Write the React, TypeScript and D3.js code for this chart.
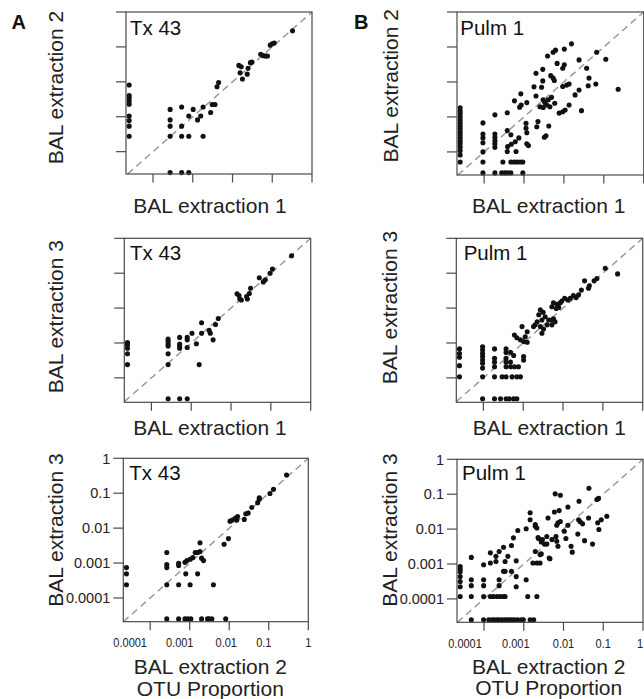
import React from 'react';
import * as d3 from 'd3';

// Values are log10(OTU proportion); null = OTU not detected in that extraction
type Pt = [number | null, number | null];

const tx43Ext1VsExt2: Pt[] = [
  [null, -2.09], [null, -2.39], [null, -2.46], [null, -2.55], [null, -2.64], [null, -2.98], [null, -3.11], [null, -3.27], [null, -3.56],
  [-3.57, null], [-3.28, null], [-3.10, null],
  [-3.57, -2.79], [-3.57, -3.09], [-3.57, -3.27], [-3.57, -3.56],
  [-3.28, -2.72], [-3.28, -3.27], [-3.28, -3.56],
  [-3.10, -2.98], [-3.10, -3.56],
  [-2.99, -2.79], [-2.88, -3.09], [-2.80, -2.98], [-2.74, -2.72], [-2.74, -3.56],
  [-2.55, -2.88], [-2.51, -2.65], [-2.44, -2.65], [-2.39, -2.14], [-2.35, -2.02],
  [-1.84, -1.53], [-1.78, -1.57], [-1.81, -1.74], [-1.75, -1.92], [-1.63, -1.78], [-1.61, -1.61], [-1.55, -1.45], [-1.51, -1.43],
  [-1.29, -1.21], [-1.23, -1.25], [-1.17, -1.26], [-1.12, -1.26],
  [-1.05, -0.95], [-1.0, -0.91], [-0.95, -0.89],
  [-0.49, -0.54],
];

const tx43Ext1VsExt3: Pt[] = [
  [null, -2.99], [null, -3.06], [null, -3.15], [null, -3.31], [null, -3.62],
  [-3.58, null], [-3.29, null], [-3.10, null],
  [-3.58, -2.89], [-3.58, -2.96], [-3.58, -3.03], [-3.58, -3.09], [-3.58, -3.31], [-3.58, -3.62],
  [-3.29, -2.84], [-3.29, -3.03], [-3.29, -3.09], [-3.29, -3.15],
  [-3.10, -2.84], [-3.10, -2.91], [-3.10, -3.13],
  [-2.98, -2.72], [-2.87, -3.02], [-2.80, -3.62], [-2.74, -2.42], [-2.74, -2.72],
  [-2.55, -2.64], [-2.52, -2.72], [-2.45, -2.91], [-2.39, -2.47], [-2.32, -2.30],
  [-1.85, -1.59], [-1.80, -1.64], [-1.78, -1.74], [-1.74, -1.77], [-1.61, -1.67], [-1.59, -1.74], [-1.54, -1.58], [-1.51, -1.43],
  [-1.29, -1.13], [-1.19, -1.25], [-1.14, -1.19], [-1.02, -1.0], [-0.96, -0.88],
  [-0.48, -0.5],
];

const tx43Ext2VsExt3: Pt[] = [
  [null, -3.13], [null, -3.31], [null, -3.62],
  [-3.58, null], [-3.28, null], [-3.12, null], [-3.05, null], [-2.97, null], [-2.70, null], [-2.55, null], [-2.51, null], [-2.44, null], [-2.09, null],
  [-3.58, -2.70], [-3.58, -3.04], [-3.58, -3.13], [-3.58, -3.62],
  [-3.28, -3.01], [-3.28, -3.07], [-3.28, -3.62],
  [-3.12, -2.98], [-3.10, -3.31], [-3.07, -2.93],
  [-2.99, -3.62], [-2.99, -2.89], [-2.92, -2.84], [-2.86, -2.70], [-2.80, -3.31], [-2.80, -2.70],
  [-2.74, -2.42], [-2.74, -2.67], [-2.70, -2.86], [-2.65, -2.93], [-2.40, -3.62],
  [-2.13, -2.46], [-2.02, -2.30],
  [-1.98, -1.80], [-1.92, -1.77], [-1.85, -1.72], [-1.79, -1.67], [-1.81, -1.77],
  [-1.62, -1.75], [-1.58, -1.59], [-1.52, -1.57], [-1.43, -1.41],
  [-1.28, -1.27], [-1.24, -1.17], [-1.24, -1.13],
  [-0.97, -1.01], [-0.88, -0.89],
  [-0.55, -0.48],
];

const pulm1Ext1VsExt2: Pt[] = [
  // upper cluster
  [-3.24, -2.54], [-3.08, -2.34], [-3.11, -2.72], [-3.07, -2.66], [-2.93, -2.59], [-2.75, -2.14], [-2.70, -1.75],
  [-2.53, -1.64], [-2.53, -1.97], [-2.56, -2.15], [-2.70, -2.40], [-2.60, -2.71], [-2.52, -2.51], [-2.48, -2.59],
  [-2.43, -2.66], [-2.52, -2.73], [-2.39, -2.51], [-2.35, -2.71], [-2.31, -2.44], [-2.23, -2.61], [-2.68, -3.28],
  [-2.65, -3.13], [-2.45, -3.54], [-2.49, -3.58], [-2.38, -3.26], [-2.41, -1.26], [-2.27, -1.15], [-2.21, -1.09],
  [-2.33, -1.82], [-2.27, -1.89], [-2.24, -1.96], [-2.17, -1.47], [-2.12, -2.89], [-2.03, -2.13], [-1.93, -2.09],
  [-2.03, -2.85], [-1.97, -2.80], [-1.99, -1.51], [-2.03, -1.61], [-1.99, -1.06], [-1.87, -2.06], [-1.87, -2.66],
  [-1.81, -0.91], [-1.72, -2.37], [-1.62, -2.23], [-1.62, -1.37], [-1.56, -2.82], [-1.43, -1.61], [-1.39, -2.11],
  [-1.37, -1.89], [-1.20, -2.06], [-1.18, -1.15], [-0.95, -1.35], [-0.64, -2.21],
  [-2.95, -3.18], [-2.95, -3.32], [-2.93, -3.45], [-2.93, -3.77], [-2.89, -3.82],
  // lower left
  [null, -2.74], [null, -2.83], [null, -2.91], [null, -3.0], [null, -3.09], [null, -3.17], [null, -3.26], [null, -3.34],
  [null, -3.43], [null, -3.51], [null, -3.60], [null, -3.69], [null, -3.77], [null, -3.86], [null, -3.97], [null, -4.09], [null, -4.29],
  [-4.03, -3.17], [-4.03, -3.49], [-4.03, -3.60], [-4.03, -3.74], [-4.03, -4.0], [-4.03, -4.29], [-4.03, null],
  [-3.73, -2.94], [-3.73, -3.49], [-3.73, -3.59], [-3.73, -3.69], [-3.73, -3.77], [-3.73, -3.87], [-3.73, null],
  [-3.56, null], [-3.48, null], [-3.41, null], [-3.33, null], [-3.03, null],
  [-3.53, -4.29], [-3.33, -4.29], [-3.25, -4.29], [-3.18, -4.29], [-3.10, -4.29], [-3.03, -4.29],
  [-3.42, -2.88], [-3.42, -3.39], [-3.33, -3.51], [-3.32, -3.78], [-3.41, -3.85], [-3.42, -3.99], [-3.22, -3.71],
  [-3.20, -3.99], [-3.13, -3.60],
];

const pulm1Ext1VsExt3: Pt[] = [
  // diagonal band
  [-0.94, -0.86], [-0.63, -1.02], [-1.15, -1.15], [-1.22, -1.22], [-1.34, -1.36], [-1.36, -1.43], [-1.46, -1.22],
  [-1.54, -1.48], [-1.61, -1.62], [-1.67, -1.70], [-1.74, -1.64], [-1.82, -1.72], [-1.88, -1.77], [-1.96, -1.72],
  [-2.03, -1.80], [-2.07, -1.85], [-2.15, -1.89], [-2.24, -1.85], [-2.28, -1.96], [-2.17, -2.01], [-2.11, -1.98],
  [-2.57, -2.05], [-2.50, -2.12], [-2.61, -2.19], [-2.45, -2.25], [-2.53, -2.34], [-2.36, -2.34], [-2.28, -2.34],
  [-2.24, -2.31], [-2.20, -2.39], [-2.65, -2.39], [-2.70, -2.48], [-2.74, -2.53], [-2.57, -2.53], [-2.49, -2.60],
  [-2.40, -2.48], [-2.28, -2.48], [-2.53, -2.72], [-2.90, -2.68], [-2.95, -2.82], [-2.90, -2.98], [-3.03, -2.53],
  [-3.22, -2.77], [-3.16, -2.85], [-3.07, -2.91], [-2.99, -2.96],
  // lower left
  [null, -3.17], [null, -3.30], [null, -3.41], [null, -3.65], [null, -3.97],
  [-4.02, -3.11], [-4.02, -3.20], [-4.02, -3.30], [-4.02, -3.39], [-4.02, -3.49], [-4.02, -3.58], [-4.02, -3.72], [-4.02, -3.97], [-4.02, null],
  [-3.72, -3.17], [-3.72, -3.44], [-3.72, -3.55], [-3.72, -3.68], [-3.72, -3.97], [-3.72, null],
  [-3.43, -3.17], [-3.43, -3.27], [-3.43, -3.44], [-3.43, -3.55], [-3.43, -3.68], [-3.43, -3.97], [-3.43, null],
  [-3.53, -3.97], [-3.28, -3.97], [-3.16, -3.97], [-3.07, -3.97],
  [-3.32, -3.68], [-3.22, -3.68], [-3.12, -3.68],
  [-3.32, -3.27], [-3.24, -3.36], [-3.32, -3.55],
  [-2.99, -3.39], [-2.99, -3.49],
  [-3.57, null], [-3.35, null], [-3.24, null], [-3.16, null],
];

const pulm1Ext2VsExt3: Pt[] = [
  // lower left
  [null, -3.07], [null, -3.15], [null, -3.22], [null, -3.36], [null, -3.50], [null, -3.65], [null, -3.93],
  [-4.32, -2.81], [-4.32, -3.45], [-4.32, -3.62], [-4.32, -3.93], [-4.32, null],
  [-4.01, -3.02], [-4.01, -3.45], [-4.01, -3.62], [-4.01, -3.93], [-4.01, null],
  [-3.84, -2.68], [-3.84, -2.97], [-3.70, -2.78], [-3.70, -2.93],
  [-3.62, -2.64], [-3.62, -3.45], [-3.62, -3.62], [-3.51, -2.52], [-3.51, -3.21],
  [-3.84, -3.93], [-3.76, -3.93], [-3.67, -3.93], [-3.59, -3.93], [-3.51, -3.93], [-3.47, -3.93],
  [-3.47, -2.93], [-3.47, -3.21], [-3.40, -2.78], [-3.31, -2.47], [-3.31, -3.21], [-3.26, -2.25],
  [-3.19, -2.91], [-3.19, -3.36], [-3.19, -3.65], [-3.15, -2.04], [-2.94, -1.99], [-2.94, -3.45],
  [-2.90, -3.93], [-2.67, -3.93], [-2.84, -1.53], [-2.84, -1.73], [-2.71, -1.87], [-2.71, -1.92], [-2.64, -2.24],
  [-2.67, -1.97], [-2.67, -2.97], [-2.77, -2.97], [-2.59, -2.97], [-2.59, -2.73],
  [-2.63, -2.27], [-2.56, -2.37], [-2.48, -2.43], [-2.53, -2.30], [-2.42, -2.21], [-2.39, -1.68],
  [-2.71, -2.64], [-2.56, -2.71], [-2.36, -2.83],
  [-3.88, null], [-3.80, null], [-3.74, null], [-3.67, null], [-3.62, null], [-3.55, null], [-3.48, null], [-3.42, null],
  [-3.36, null], [-3.30, null], [-3.23, null], [-3.15, null], [-3.06, null], [-3.01, null], [-2.84, null], [-2.75, null],
  // upper right
  [-2.21, -0.99], [-2.08, -1.03], [-1.36, -0.83], [-1.61, -1.20], [-1.16, -1.15], [-1.12, -1.12], [-1.89, -1.37],
  [-2.23, -1.51], [-2.11, -1.47], [-1.37, -1.68], [-0.91, -1.63], [-1.05, -1.73], [-2.14, -1.82], [-2.08, -1.78],
  [-2.17, -1.89], [-1.89, -1.89], [-1.62, -1.73], [-1.58, -1.79], [-1.52, -1.85], [-1.14, -1.82], [-1.11, -2.01],
  [-1.98, -2.06], [-1.64, -2.14], [-2.19, -2.21], [-2.29, -2.30], [-1.94, -2.27], [-2.42, -2.43], [-2.17, -2.35],
  [-2.14, -2.49], [-1.81, -2.49], [-1.78, -2.66], [-1.47, -2.33], [-1.27, -2.43], [-2.34, -2.85],
];

const tickValues = [1e-4, 1e-3, 1e-2, 1e-1, 1];
const tickLabels = ['0.0001', '0.001', '0.01', '0.1', '1'];

const ZERO_LOG = -4.6;
const X_MIN_LOG = -4.68;
const FONT = '"Liberation Sans", Arial, Helvetica, sans-serif';

interface PanelCfg {
  data: Pt[];
  title: string;
  box: [number, number, number, number]; // x0, x1, y0, y1
  yMinLog: number;
  titleXY: [number, number];
  yLabel: string;
  yLabelXY: [number, number];
  xLabels: string[];
  xLabelXY: [number, number];
  tickLabelsOn: boolean;
  xTickShift: number[];
}

const panels: PanelCfg[] = [
  { data: tx43Ext1VsExt2, title: 'Tx 43', box: [126, 312, 12, 174], yMinLog: -4.64, titleXY: [130, 35],
    yLabel: 'BAL extraction 2', yLabelXY: [63, 87.5], xLabels: ['BAL extraction 1'], xLabelXY: [210, 213.3],
    tickLabelsOn: false, xTickShift: [] },
  { data: tx43Ext1VsExt3, title: 'Tx 43', box: [124.3, 310.7, 238.3, 402.3], yMinLog: -4.7, titleXY: [130, 260],
    yLabel: 'BAL extraction 3', yLabelXY: [63, 316.7], xLabels: ['BAL extraction 1'], xLabelXY: [210, 435],
    tickLabelsOn: false, xTickShift: [] },
  { data: tx43Ext2VsExt3, title: 'Tx 43', box: [123.3, 308.3, 458.3, 621.7], yMinLog: -4.68, titleXY: [129.3, 480],
    yLabel: 'BAL extraction 3', yLabelXY: [63.3, 530], xLabels: ['BAL extraction 2', 'OTU Proportion'], xLabelXY: [210.3, 674],
    tickLabelsOn: true, xTickShift: [-20, -10, -3, -5, 0] },
  { data: pulm1Ext1VsExt2, title: 'Pulm 1', box: [457, 643.7, 12, 175], yMinLog: -4.66, titleXY: [460.3, 35],
    yLabel: 'BAL extraction 2', yLabelXY: [397.5, 85.8], xLabels: ['BAL extraction 1'], xLabelXY: [548.7, 213.3],
    tickLabelsOn: false, xTickShift: [] },
  { data: pulm1Ext1VsExt3, title: 'Pulm 1', box: [456.3, 642.7, 238.3, 402.3], yMinLog: -4.7, titleXY: [463.7, 260],
    yLabel: 'BAL extraction 3', yLabelXY: [397, 307.5], xLabels: ['BAL extraction 1'], xLabelXY: [549.3, 435],
    tickLabelsOn: false, xTickShift: [] },
  { data: pulm1Ext2VsExt3, title: 'Pulm 1', box: [457, 643, 459.3, 622.3], yMinLog: -4.67, titleXY: [462, 480],
    yLabel: 'BAL extraction 3', yLabelXY: [397, 530], xLabels: ['BAL extraction 2', 'OTU Proportion'], xLabelXY: [548.7, 673.5],
    tickLabelsOn: true, xTickShift: [-19, -8, 0, 0, -3] },
];

const AXIS = '#4a4a4a';

function Panel({ cfg }: { cfg: PanelCfg }) {
  const [x0, x1, y0, y1] = cfg.box;
  const x = d3.scaleLog().domain([10 ** X_MIN_LOG, 1]).range([x0, x1]);
  const y = d3.scaleLog().domain([10 ** cfg.yMinLog, 1]).range([y1, y0]);
  const lo = 10 ** Math.max(X_MIN_LOG, cfg.yMinLog);
  const pos = (v: number | null) => 10 ** (v === null ? ZERO_LOG : v);
  return (
    <g>
      <line x1={x(lo)} y1={y(lo)} x2={x(1)} y2={y(1)} stroke="#9b9b9b" strokeWidth={1.5} strokeDasharray="7,4.5" />
      {cfg.data.map((d, i) => (
        <circle key={i} cx={x(pos(d[0]))} cy={y(pos(d[1]))} r={2.55} fill="#111" />
      ))}
      <rect x={x0} y={y0} width={x1 - x0} height={y1 - y0} fill="none" stroke={AXIS} strokeWidth={1.2} />
      {tickValues.map((t, i) => (
        <g key={'t' + i}>
          <line x1={x(t)} x2={x(t)} y1={y1} y2={y1 + 8.5} stroke={AXIS} strokeWidth={1.2} />
          <line x1={x0 - 10} x2={x0} y1={y(t)} y2={y(t)} stroke={AXIS} strokeWidth={1.2} />
          {cfg.tickLabelsOn && (
            <>
              <text transform={`translate(${x(t) + cfg.xTickShift[i]},${y1 + 25.5}) scale(0.88,1)`} textAnchor="middle"
                fontSize={12.5} fontFamily={FONT} fill="#222">{tickLabels[i]}</text>
              <text x={x0 - 13} y={y(t)} dy="0.36em" textAnchor="end" fontSize={14.5} fontFamily={FONT} fill="#222">{tickLabels[i]}</text>
            </>
          )}
        </g>
      ))}
      <text x={cfg.titleXY[0]} y={cfg.titleXY[1]} fontSize={20.5} fontFamily={FONT} fill="#111">{cfg.title}</text>
      <text transform={`translate(${cfg.yLabelXY[0]},${cfg.yLabelXY[1]}) rotate(-90)`} textAnchor="middle"
        fontSize={21} fontFamily={FONT} fill="#222">{cfg.yLabel}</text>
      {cfg.xLabels.map((s, i) => (
        <text key={'xl' + i} x={cfg.xLabelXY[0]} y={cfg.xLabelXY[1] + i * 21.5} textAnchor="middle" fontSize={21}
          fontFamily={FONT} fill="#222">{s}</text>
      ))}
    </g>
  );
}

export default function App() {
  return (
    <svg width={644} height={699} style={{ position: 'absolute', left: 0, top: 0, background: '#fff' }}>
      <rect width={644} height={699} fill="#fff" />
      <text x={11.5} y={29.3} fontSize={20} fontWeight="bold" fontFamily={FONT} fill="#111">A</text>
      <text x={354} y={29.3} fontSize={20} fontWeight="bold" fontFamily={FONT} fill="#111">B</text>
      {panels.map((p, i) => <Panel key={i} cfg={p} />)}
    </svg>
  );
}
